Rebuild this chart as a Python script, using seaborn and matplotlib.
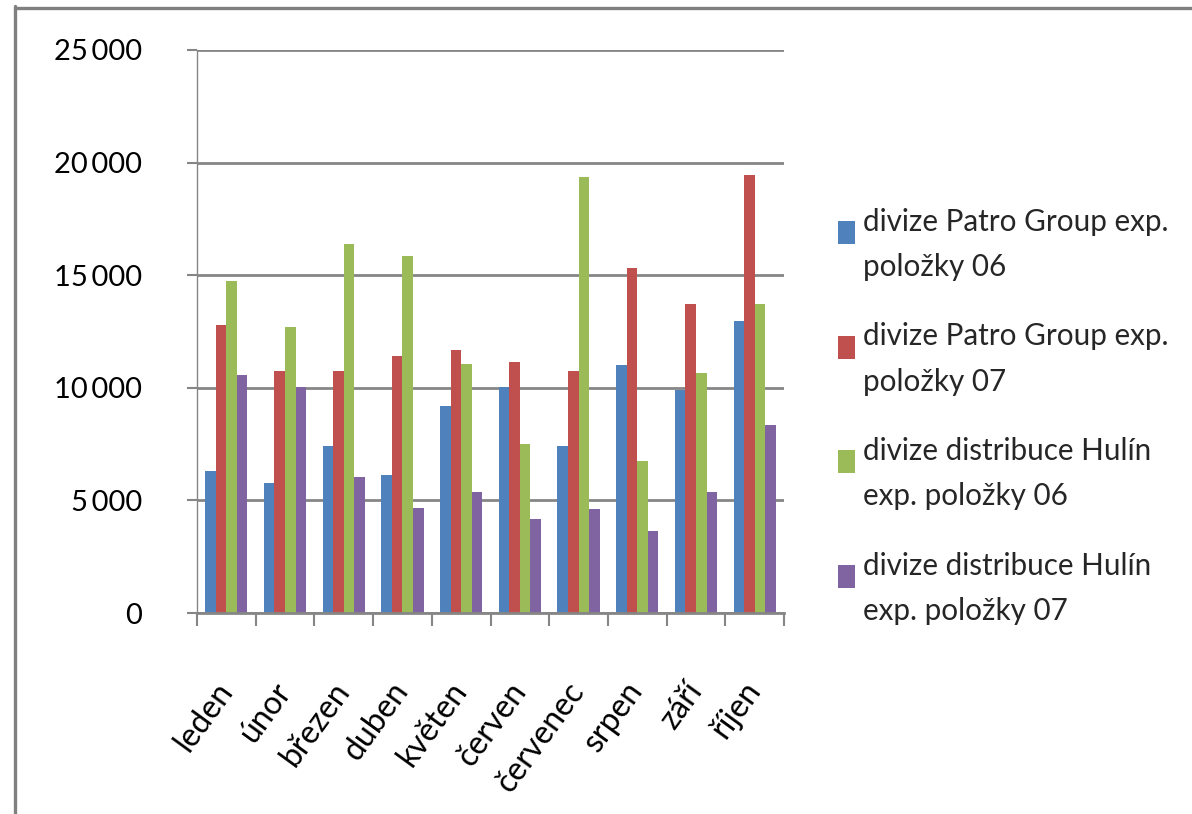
import matplotlib
matplotlib.use("Agg")
import matplotlib.pyplot as plt
import matplotlib.ticker as mticker
from matplotlib.lines import Line2D
from matplotlib.patches import Patch, Rectangle
from matplotlib.legend_handler import HandlerPatch
import seaborn as sns
import pandas as pd

# monthly values per division
mesice = ["leden", "únor", "březen", "duben", "květen",
          "červen", "červenec", "srpen", "září", "říjen"]
patro_06 = [6320, 5790, 7430, 6140, 9200, 10050, 7430, 11020, 9910, 12980]
patro_07 = [12800, 10760, 10760, 11420, 11690, 11160, 10760, 15330, 13730, 19460]
hulin_06 = [14750, 12710, 16390, 15860, 11070, 7520, 19370, 6760, 10670, 13730]
hulin_07 = [10580, 10050, 6050, 4680, 5390, 4190, 4630, 3650, 5390, 8360]

rady = ["divize Patro Group exp.\npoložky 06",
        "divize Patro Group exp.\npoložky 07",
        "divize distribuce Hulín\nexp. položky 06",
        "divize distribuce Hulín\nexp. položky 07"]
barvy = ["#4F81BD", "#C0504D", "#9BBB59", "#8064A2"]
y_ticks = [0, 5000, 10000, 15000, 20000, 25000]

df = pd.DataFrame({
    "mesic": mesice * 4,
    "rada": sum([[r] * len(mesice) for r in rady], []),
    "hodnota": patro_06 + patro_07 + hulin_06 + hulin_07,
})

sns.set_style("white")
plt.rcParams["font.family"] = ["Lato", "DejaVu Sans"]

W, H = 1192, 814
fig = plt.figure(figsize=(W / 100, H / 100), dpi=100)
fig.patch.set_facecolor("white")
ax = fig.add_axes([197 / W, 1 - 613 / H, (784 - 197) / W, (613 - 50) / H])

sns.barplot(data=df, x="mesic", y="hodnota", hue="rada", order=mesice,
            hue_order=rady, palette=barvy, saturation=1, width=0.72,
            gap=0, ax=ax, legend=False, errorbar=None, linewidth=0)

grid_c = "#868686"
ax.set_ylim(0, 25000)
ax.set_xlim(-0.5, len(mesice) - 0.5)
ax.set_yticks(y_ticks)
ax.yaxis.set_major_formatter(mticker.FuncFormatter(
    lambda v, p: f"{int(v):,}".replace(",", "\u2009")))
ax.grid(axis="y", color=grid_c, linewidth=2)
ax.set_axisbelow(True)
ax.set_xlabel("")
ax.set_ylabel("")

for s in ["top", "right"]:
    ax.spines[s].set_visible(False)
ax.spines["left"].set_color(grid_c)
ax.spines["left"].set_linewidth(1)
ax.spines["bottom"].set_color(grid_c)
ax.spines["bottom"].set_linewidth(2)

ax.tick_params(axis="y", which="major", length=7.5, width=1.5, color=grid_c,
               pad=32, labelsize=21, labelcolor="black", left=True)
ax.tick_params(axis="x", which="major", length=0, pad=52, labelsize=23,
               labelcolor="black")
ax.set_xticks([i - 0.5 for i in range(len(mesice) + 1)], minor=True)
ax.tick_params(axis="x", which="minor", length=9, width=1.5, color=grid_c,
               bottom=True)
for lbl in ax.get_xticklabels():
    lbl.set_rotation(54)
    lbl.set_ha("right")
    lbl.set_va("center")
    lbl.set_rotation_mode("anchor")


def top_square(legend, orig_handle, xdescent, ydescent, width, height, fontsize):
    w, h = 17 * 0.72, 23 * 0.72
    return Rectangle((-xdescent, -ydescent + height - h), w, h)


handles = [Patch(facecolor=c, edgecolor="none") for c in barvy]
leg = fig.legend(handles, rady, loc="upper left",
                 bbox_to_anchor=(826 / W, 1 - 196 / H), frameon=False,
                 fontsize=21.3, handlelength=0.6, handleheight=2.3,
                 handletextpad=0.25, labelspacing=1.4, borderaxespad=0,
                 handler_map={Patch: HandlerPatch(patch_func=top_square)})
for t in leg.get_texts():
    t.set_linespacing(1.75)

# chart frame (left and top edges)
fig.add_artist(Line2D([15 / W, 15 / W], [0, 1 - 6 / H], color="#808080",
                      linewidth=2.4, transform=fig.transFigure))
fig.add_artist(Line2D([15 / W, 1], [1 - 7.5 / H, 1 - 7.5 / H],
                      color="#808080", linewidth=2.4,
                      transform=fig.transFigure))

fig.savefig("out.png", dpi=100, facecolor="white")
